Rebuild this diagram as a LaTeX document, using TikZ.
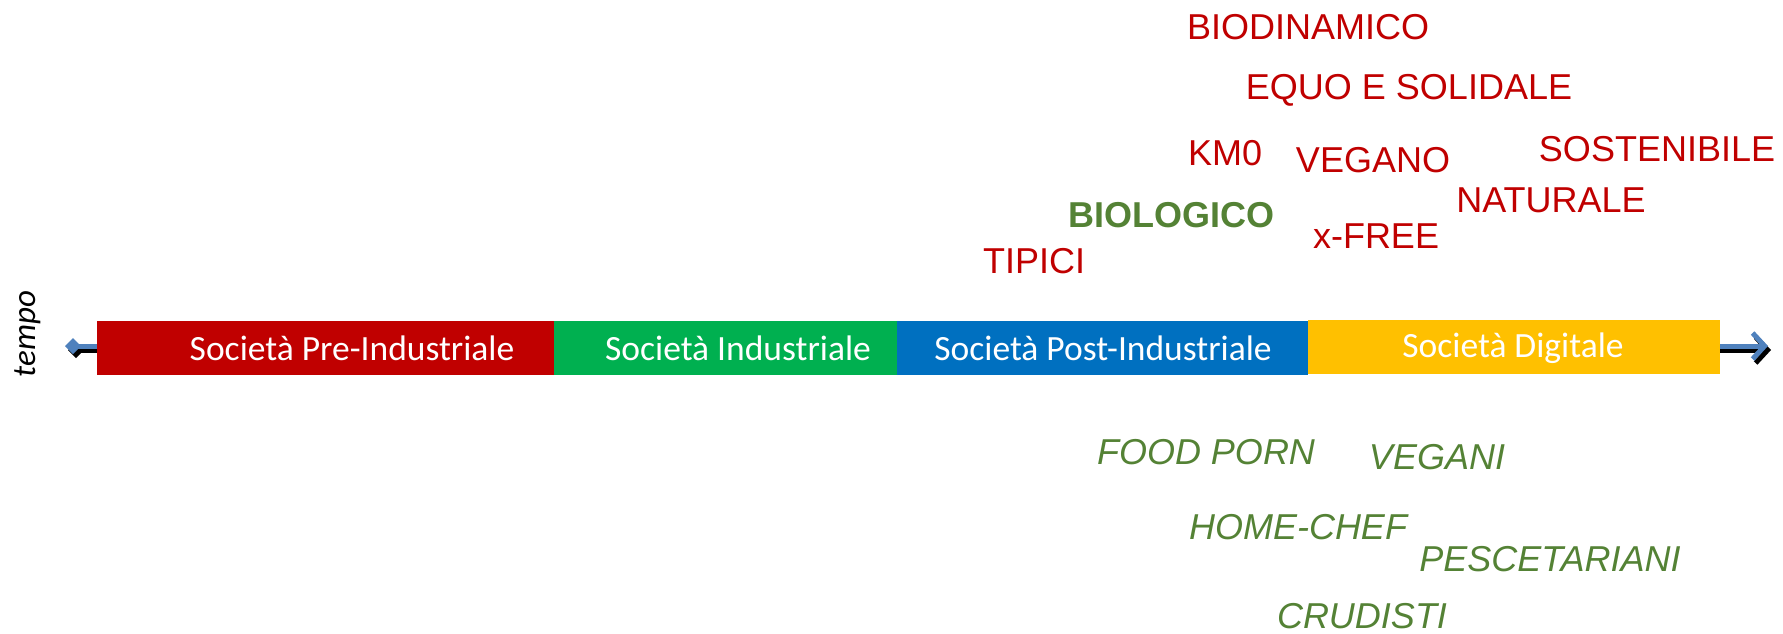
\documentclass[tikz,border=0pt]{standalone}
\usepackage{fontspec}
\setmainfont{Liberation Sans}
\newfontfamily\calibri{Carlito}
\usetikzlibrary{positioning,arrows.meta}
\definecolor{preind}{HTML}{C00000}
\definecolor{ind}{HTML}{00B050}
\definecolor{postind}{HTML}{0070C0}
\definecolor{digit}{HTML}{FFC000}
\definecolor{axisblue}{HTML}{4F81BD}
\definecolor{trendred}{HTML}{C00000}
\definecolor{trendgreen}{HTML}{548235}
\tikzset{
  seg/.style={rectangle,inner sep=0pt,outer sep=0pt,minimum height=54pt,draw=none},
  segtext/.style={text=white,inner sep=0pt,anchor=base,font=\calibri\fontsize{35.5}{40}\selectfont},
  trend/.style={text=trendred,inner sep=0pt,anchor=base,font=\fontsize{36}{40}\selectfont},
  eater/.style={text=trendgreen,inner sep=0pt,anchor=base,font=\itshape\fontsize{36}{40}\selectfont},
  timeaxis/.style={line width=5pt,{Diamond[length=16pt,width=16pt]}-{Straight Barb[length=12pt,width=26pt]}}
}
\begin{document}
\begin{tikzpicture}[x=1pt,y=-1pt]
  \useasboundingbox (0,0) rectangle (1783,633);
  % asse del tempo
  \coordinate (tl) at (65,346);
  \coordinate (tr) at (1768,346);
  \draw[timeaxis,black] ([shift={(3,4)}]tl) -- ([shift={(3,4)}]tr);
  \draw[timeaxis,axisblue] (tl) -- (tr);
  \node[rotate=90,font=\calibri\itshape\fontsize{33}{36}\selectfont] (tempo) at (28,334) {tempo};

  % fasce
  \node[seg,fill=preind,minimum width=457pt,anchor=west] (pre) at (97,348) {};
  \node[seg,fill=ind,minimum width=343pt,right=0pt of pre] (ind) {};
  \node[seg,fill=postind,minimum width=411pt,right=0pt of ind] (post) {};
  \node[seg,fill=digit,minimum width=412pt,right=0pt of post,yshift=1pt] (dig) {};
  \node[segtext] (tpre) at (352,360) {Società Pre-Industriale};
  \node[segtext] (tind) at (738,360) {Società Industriale};
  \node[segtext] (tpost) at (1103,360) {Società Post-Industriale};
  \node[segtext] (tdig) at (1513,357) {Società Digitale};

  % prodotti
  \node[trend] (biodin) at (1308,39) {BIODINAMICO};
  \node[trend] (equo) at (1409,99) {EQUO E SOLIDALE};
  \node[trend] (km) at (1225,165) {KM0};
  \node[trend] (vegano) at (1373,172) {VEGANO};
  \node[trend] (sost) at (1657,161) {SOSTENIBILE};
  \node[trend] (nat) at (1551,212) {NATURALE};
  \node[trend,text=trendgreen,font=\bfseries\fontsize{36}{40}\selectfont] (bio) at (1171,227) {BIOLOGICO};
  \node[trend] (free) at (1376,248) {x-FREE};
  \node[trend] (tipici) at (1034,273) {TIPICI};

  % consumatori
  \node[eater] (porn) at (1206,464) {FOOD PORN};
  \node[eater] (vegani) at (1437,469) {VEGANI};
  \node[eater] (chef) at (1298,539) {HOME-CHEF};
  \node[eater] (pesce) at (1550,571) {PESCETARIANI};
  \node[eater] (crud) at (1362,628) {CRUDISTI};
\end{tikzpicture}
\end{document}
